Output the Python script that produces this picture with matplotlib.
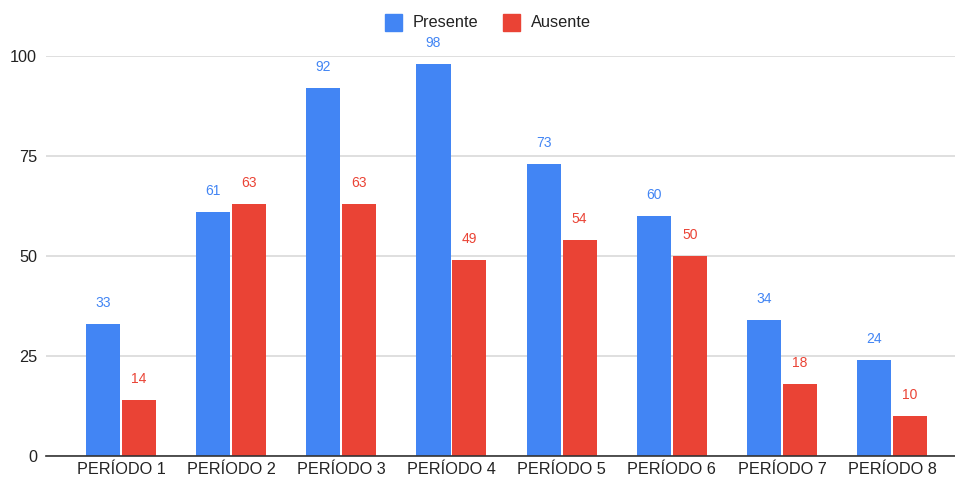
import matplotlib.pyplot as plt
import numpy as np
from matplotlib.patches import Rectangle

plt.rcParams['font.family'] = ['Liberation Sans', 'DejaVu Sans']

# Dados por período
periodos = ["PERÍODO 1", "PERÍODO 2", "PERÍODO 3", "PERÍODO 4",
            "PERÍODO 5", "PERÍODO 6", "PERÍODO 7", "PERÍODO 8"]
presente = [33, 61, 92, 98, 73, 60, 34, 24]
ausente = [14, 63, 63, 49, 54, 50, 18, 10]

cor_presente = "#4285F4"
cor_ausente = "#EA4335"

fig = plt.figure(figsize=(9.55, 4.79), dpi=100)
ax = fig.add_axes([46 / 955, 23 / 479, 909 / 955, 400 / 479])

x = np.arange(len(periodos))
largura = 0.309
desloc = 0.163

b1 = ax.bar(x - desloc, presente, largura, color=cor_presente, zorder=3)
b2 = ax.bar(x + desloc, ausente, largura, color=cor_ausente, zorder=3)

# Rótulos de valor acima das barras
for barras, cor in ((b1, cor_presente), (b2, cor_ausente)):
    for b in barras:
        ax.annotate(f"{int(b.get_height())}",
                    (b.get_x() + b.get_width() / 2, b.get_height()),
                    xytext=(0, 15), textcoords="offset points",
                    ha="center", va="center", fontsize=10, color=cor,
                    annotation_clip=False)

ax.set_xlim(-0.68, 7.57)
ax.set_ylim(0, 100)
ax.set_yticks([0, 25, 50, 75, 100])
ax.set_xticks(x)
ax.set_xticklabels(periodos)
ax.tick_params(axis="both", length=0, labelsize=11.7, colors="#222222")
ax.tick_params(axis="y", pad=6.5)
ax.tick_params(axis="x", pad=4)

ax.grid(axis="y", color="#d9d9d9", linewidth=1.2, zorder=0)
for lado in ("top", "right", "left"):
    ax.spines[lado].set_visible(False)
ax.spines["bottom"].set_color("#333333")
ax.spines["bottom"].set_linewidth(1.2)
ax.spines["bottom"].set_zorder(4)

# Legenda no topo
for x0, cor, texto in ((385, cor_presente, "Presente"), (502.5, cor_ausente, "Ausente")):
    fig.patches.append(Rectangle((x0 / 955, 1 - 31 / 479), 17 / 955, 17 / 479,
                                 transform=fig.transFigure, color=cor))
    fig.text((x0 + 28) / 955, 1 - 22.5 / 479, texto, fontsize=11.8,
             color="#222222", va="center", ha="left")

fig.savefig("out.png", dpi=100)
